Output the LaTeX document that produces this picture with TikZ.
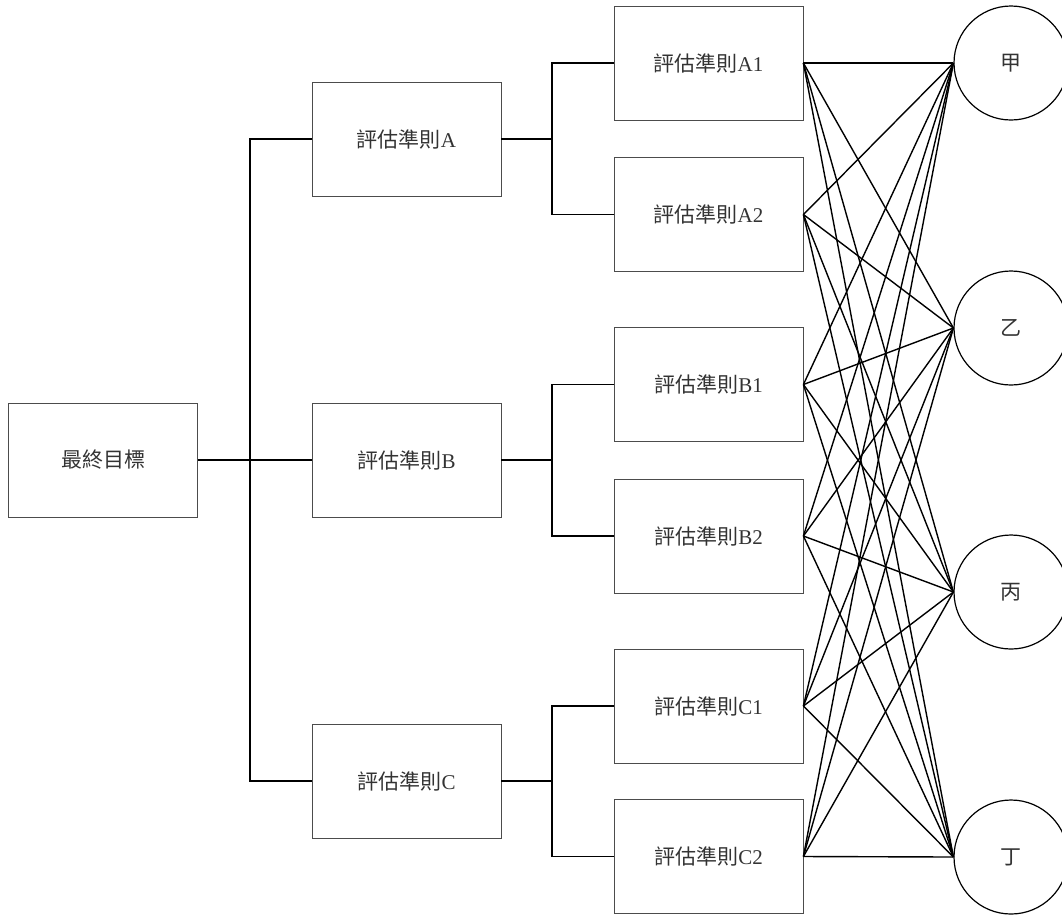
\documentclass[tikz,border=0pt]{standalone}
\usepackage{fontspec}
\setmainfont{Liberation Serif}
\newfontfamily\cjk{Noto Sans CJK TC}
\usepackage{tikz}
\usetikzlibrary{positioning}
\tikzset{
	box/.style={% criteria boxes
		draw=black!70, rectangle,
		line width=0.8pt,
		minimum width=189pt,
		minimum height=114pt,
		inner sep=0pt,
		text=black!80,
		font=\fontsize{21}{24}\selectfont,
		align=center
	},
	option/.style={
		draw, shape=circle,
		line width=1.2pt,
		minimum size=114pt,
		inner sep=0pt,
		text=black!80,
		font=\fontsize{21}{24}\selectfont\cjk
	},
	link/.style={line width=1.4pt}
}
\newcommand{\crit}[1]{{\cjk 評估準則}#1}

\begin{document}
\begin{tikzpicture}[x=1pt,y=-1pt]
			\useasboundingbox (0,0) rectangle (1062,914);
			\node [box] (goal) at (103,460) {\cjk 最終目標};
			\node [box] (ca) at (406.5,139) {\crit{A}};
			\node [box] (cb) at (406.5,460) {\crit{B}};
			\node [box] (cc) at (406.5,781) {\crit{C}};
			\node [box] (a1) at (708.5,63) {\crit{A1}};
			\node [box] (a2) at (708.5,214.5) {\crit{A2}};
			\node [box] (b1) at (708.5,384.5) {\crit{B1}};
			\node [box] (b2) at (708.5,536) {\crit{B2}};
			\node [box] (c1) at (708.5,706) {\crit{C1}};
			\node [box] (c2) at (708.5,856.5) {\crit{C2}};
			\node [option] (jia) at (1011,63) {甲};
			\node [option] (yi) at (1011,328) {乙};
			\node [option] (bing) at (1011,592) {丙};
			\node [option] (ding) at (1011,857) {丁};
			% tree joints
			\coordinate (j0) at (250,460);
			\coordinate (ja) at (552,139);
			\coordinate (jb) at (552,460);
			\coordinate (jc) at (552,781);
			\draw [link] (goal.east) -- (j0) |- (ca.west);
			\draw [link] (j0) |- (cc.west);
			\draw [link] (j0) -- (cb.west);
			\draw [link] (ca.east) -- (ja) |- (a1.west);
			\draw [link] (ja) |- (a2.west);
			\draw [link] (cb.east) -- (jb) |- (b1.west);
			\draw [link] (jb) |- (b2.west);
			\draw [link] (cc.east) -- (jc) |- (c1.west);
			\draw [link] (jc) |- (c2.west);
			% every criterion to every option
			\draw [link] (a1.east) edge (jia.west) edge (yi.west) edge (bing.west) edge (ding.west);
			\draw [link] (a2.east) edge (jia.west) edge (yi.west) edge (bing.west) edge (ding.west);
			\draw [link] (b1.east) edge (jia.west) edge (yi.west) edge (bing.west) edge (ding.west);
			\draw [link] (b2.east) edge (jia.west) edge (yi.west) edge (bing.west) edge (ding.west);
			\draw [link] (c1.east) edge (jia.west) edge (yi.west) edge (bing.west) edge (ding.west);
			\draw [link] (c2.east) edge (jia.west) edge (yi.west) edge (bing.west) edge (ding.west);
\end{tikzpicture}
\end{document}
